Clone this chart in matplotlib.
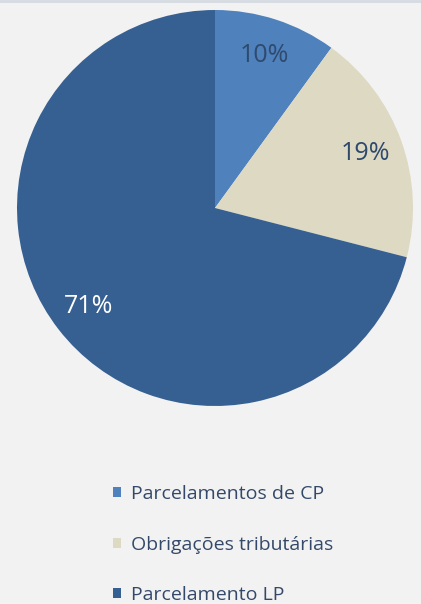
import matplotlib.pyplot as plt
from matplotlib.lines import Line2D

labels = ["Parcelamentos de CP", "Obrigações tributárias", "Parcelamento LP"]
valores = [10, 19, 71]
cores = ["#4F81BD", "#DDD9C3", "#366092"]
cores_texto = ["#2F4A6D", "#2F4A6D", "#FFFFFF"]

plt.rcParams['font.family'] = ['Open Sans', 'DejaVu Sans']

fig = plt.figure(figsize=(4.21, 6.04), dpi=100, facecolor="#F2F2F2")
ax = fig.add_axes([17/421, 198/604, 396/421, 396/604])
ax.set_facecolor("#F2F2F2")

wedges, textos, pcts = ax.pie(valores, colors=cores, startangle=90, counterclock=False,
                              autopct="%d%%", pctdistance=0.81, radius=1,
                              wedgeprops=dict(linewidth=0))
for t, c in zip(pcts, cores_texto):
    t.set_color(c)
    t.set_fontsize(18)
ax.set_xlim(-1, 1)
ax.set_ylim(-1, 1)
ax.set_aspect("equal")

# linha superior
fig.add_artist(Line2D([0, 1], [0.998, 0.998], transform=fig.transFigure,
                      color="#D5DBE2", lw=2))

leg = fig.legend(wedges, labels, loc="upper left", bbox_to_anchor=(113/421, 1 - 485/604),
                 frameon=False, fontsize=14, handlelength=0.42, handleheight=0.42,
                 handletextpad=0.5, labelspacing=1.68, borderpad=0, borderaxespad=0)
for t in leg.get_texts():
    t.set_color("#34496A")

fig.savefig("out.png", dpi=100, facecolor=fig.get_facecolor())
